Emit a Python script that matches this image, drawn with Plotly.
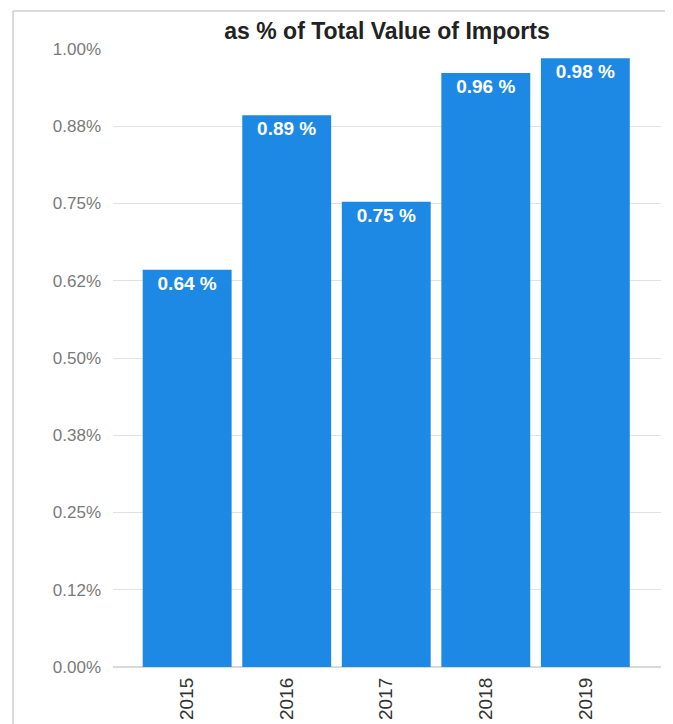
import plotly.graph_objects as go

years = ["2015", "2016", "2017", "2018", "2019"]
values = [0.643, 0.893, 0.753, 0.961, 0.985]
labels = ["0.64 %", "0.89 %", "0.75 %", "0.96 %", "0.98 %"]
y_tickvals = [0, 0.125, 0.25, 0.375, 0.5, 0.625, 0.75, 0.875, 1.0]
y_ticktext = ["0.00%", "0.12%", "0.25%", "0.38%", "0.50%", "0.62%", "0.75%", "0.88%", "1.00%"]
title_text = "as % of Total Value of Imports"

FONT = "Arial, 'Liberation Sans', sans-serif"

# page body has an 8px default margin, so the figure is 8px smaller than the window
W, H = 665, 716
L, R, T, B = 105, 12, 41, 57
PW = W - L - R
PH = H - T - B

fig = go.Figure(go.Bar(
    x=years, y=values, text=labels,
    textposition="inside", insidetextanchor="end",
    textangle=0,
    textfont=dict(family=FONT, size=19, color="white", weight="bold"),
    marker=dict(color="#1E88E5", line=dict(width=0)),
))

bx0 = (5 - L) / PW
bx1 = (661 - L) / PW
by1 = (H - B - 3) / PH
by0 = -B / PH - 0.05
border = dict(color="#cfcfcf", width=1.5)

fig.update_layout(
    width=W, height=H,
    margin=dict(l=L, r=R, t=T, b=B, autoexpand=False),
    paper_bgcolor="white", plot_bgcolor="white",
    bargap=0.107,
    showlegend=False,
    uniformtext=dict(minsize=8, mode="show"),
    title=dict(text="<b>" + title_text + "</b>", x=0.5, xref="paper", xanchor="center",
               y=1 - 23 / H, yanchor="middle", yref="container",
               font=dict(family=FONT, size=23, color="#222222")),
    xaxis=dict(range=[-0.745, 4.76], tickangle=-90, showgrid=False,
               showline=False, ticks="", zeroline=False, ticklabelstandoff=6,
               tickfont=dict(family=FONT, size=19, color="#333333")),
    yaxis=dict(range=[0, 1.0], tickvals=y_tickvals, ticktext=y_ticktext,
               showgrid=True, gridcolor="#e2e2e2", gridwidth=1,
               zeroline=True, zerolinecolor="#dadada", zerolinewidth=2,
               showline=False, ticks="", ticklabelstandoff=11,
               tickfont=dict(family=FONT, size=17, color="#7a7a7a")),
    shapes=[
        dict(type="line", xref="paper", yref="paper", x0=bx0, x1=bx1, y0=by1, y1=by1, line=border),
        dict(type="line", xref="paper", yref="paper", x0=bx0, x1=bx0, y0=by0, y1=by1, line=border),
        dict(type="line", xref="paper", yref="paper", x0=bx1, x1=bx1, y0=by0, y1=by1, line=border),
    ],
)

fig.write_html("out.html")
